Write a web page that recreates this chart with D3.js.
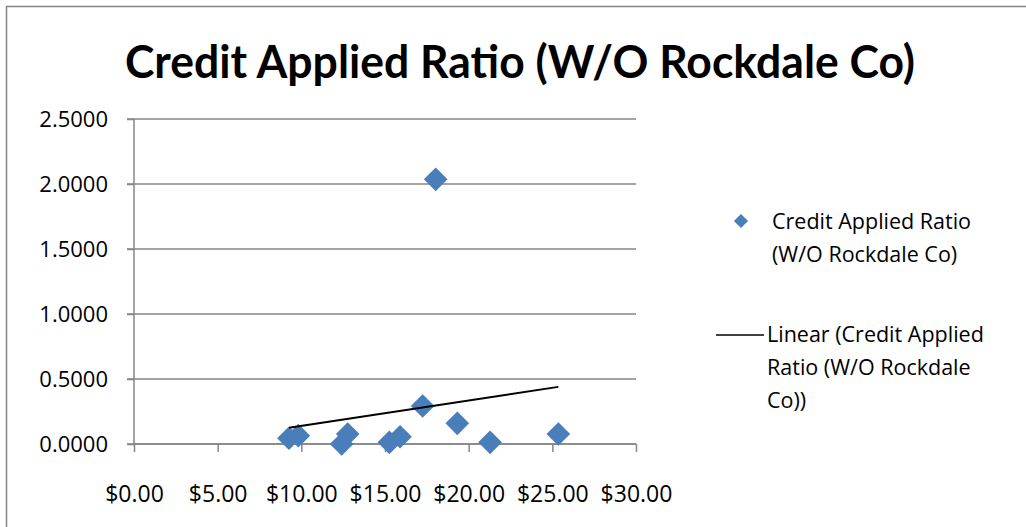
<!DOCTYPE html>
<html>
<head>
<meta charset="utf-8">
<script src="https://cdn.jsdelivr.net/npm/d3@7"></script>
<style>
  html, body { margin: 0; padding: 0; background: #fff; }
  svg { display: block; }
</style>
</head>
<body>
<div id="canvas"></div>
<script>
  // values
  var seriesName = 'Credit Applied Ratio (W/O Rockdale Co)';
  var priceValues = [9.26, 9.82, 12.41, 12.77, 15.26, 15.90, 17.25, 18.03, 19.32, 21.28, 25.36];
  var ratioValues = [0.044, 0.064, 0.000, 0.077, 0.013, 0.056, 0.292, 2.036, 0.159, 0.013, 0.077];
  var xTicks = [0, 5, 10, 15, 20, 25, 30];
  var yTicks = [0, 0.5, 1, 1.5, 2, 2.5];

  var width = 1026, height = 527;
  var fontFamily = '"Open Sans", "DejaVu Sans", sans-serif';
  var blue = '#4a7ebb';
  var grid = '#868686';

  var points = priceValues.map(function (p, i) { return { x: p, y: ratioValues[i] }; });

  var svg = d3.select('#canvas')
    .append('svg')
    .attr('width', width)
    .attr('height', height);

  // chart frame, right and bottom edges fall off the picture
  svg.append('rect')
    .attr('x', 6.5)
    .attr('y', 6.5)
    .attr('width', width + 10)
    .attr('height', height + 10)
    .attr('fill', '#fff')
    .attr('stroke', grid)
    .attr('stroke-width', 1.5);

  // title
  svg.append('text')
    .attr('x', 125)
    .attr('y', 78)
    .attr('textLength', 790)
    .attr('lengthAdjust', 'spacingAndGlyphs')
    .style('font-family', 'Lato, "Open Sans", sans-serif')
    .style('font-size', '45px')
    .style('font-weight', 'bold')
    .attr('fill', '#000')
    .text(seriesName);

  var x = d3.scaleLinear().domain([0, 30]).range([134, 636]);
  var y = d3.scaleLinear().domain([0, 2.5]).range([444, 119]);

  // horizontal gridlines
  svg.append('g')
    .selectAll('line')
    .data(yTicks)
    .enter()
    .append('line')
    .attr('x1', 127)
    .attr('x2', 636)
    .attr('y1', function (d) { return y(d); })
    .attr('y2', function (d) { return y(d); })
    .attr('stroke', grid)
    .attr('stroke-width', 1.5);

  // y axis
  var yAxis = svg.append('g')
    .attr('transform', 'translate(134,0)')
    .call(d3.axisLeft(y).tickValues(yTicks).tickSize(7).tickPadding(19)
      .tickFormat(d3.format('.4f')));

  // x axis
  var xAxis = svg.append('g')
    .attr('transform', 'translate(0,444)')
    .call(d3.axisBottom(x).tickValues(xTicks).tickSize(8).tickPadding(34)
      .tickFormat(function (d) { return '$' + d3.format('.2f')(d); }));

  [yAxis, xAxis].forEach(function (ax) {
    ax.select('.domain').attr('stroke', grid).attr('stroke-width', 1.5);
    ax.selectAll('.tick line').attr('stroke', grid).attr('stroke-width', 1.5);
    ax.selectAll('.tick text')
      .attr('fill', '#000')
      .style('font-family', fontFamily)
      .style('font-size', '22px');
  });
  xAxis.selectAll('.tick text').style('font-size', '23px');
  xAxis.select('.domain').attr('d', 'M134,0H636');
  yAxis.select('.domain').attr('d', 'M0,119V444');

  // linear trendline (least squares over the points)
  var mx = d3.mean(priceValues), my = d3.mean(ratioValues);
  var sxy = d3.sum(points, function (d) { return (d.x - mx) * (d.y - my); });
  var sxx = d3.sum(points, function (d) { return (d.x - mx) * (d.x - mx); });
  var slope = sxy / sxx, intercept = my - slope * mx;
  var xExt = d3.extent(priceValues);

  // markers: squares turned 45 degrees
  var diamond = d3.symbol().type(d3.symbolSquare).size(280);
  svg.append('g')
    .selectAll('path')
    .data(points)
    .enter()
    .append('path')
    .attr('d', diamond)
    .attr('transform', function (d) {
      return 'translate(' + x(d.x) + ',' + y(d.y) + ') rotate(45)';
    })
    .attr('fill', blue);

  svg.append('line')
    .attr('x1', x(xExt[0]))
    .attr('y1', y(intercept + slope * xExt[0]))
    .attr('x2', x(xExt[1]))
    .attr('y2', y(intercept + slope * xExt[1]))
    .attr('stroke', '#000')
    .attr('stroke-width', 2);

  // legend
  var legend = svg.append('g')
    .style('font-family', fontFamily)
    .style('font-size', '21.5px');

  legend.append('path')
    .attr('d', d3.symbol().type(d3.symbolSquare).size(100))
    .attr('transform', 'translate(741,221) rotate(45)')
    .attr('fill', blue);

  legend.append('text')
    .attr('x', 772)
    .attr('y', 229)
    .selectAll('tspan')
    .data(['Credit Applied Ratio', '(W/O Rockdale Co)'])
    .enter()
    .append('tspan')
    .attr('x', 772)
    .attr('dy', function (d, i) { return i ? 33 : 0; })
    .text(function (d) { return d; });

  legend.append('line')
    .attr('x1', 716)
    .attr('x2', 764)
    .attr('y1', 335)
    .attr('y2', 335)
    .attr('stroke', '#000')
    .attr('stroke-width', 1.5);

  legend.append('text')
    .attr('x', 767)
    .attr('y', 342)
    .selectAll('tspan')
    .data(['Linear (Credit Applied', 'Ratio (W/O Rockdale', 'Co))'])
    .enter()
    .append('tspan')
    .attr('x', 767)
    .attr('dy', function (d, i) { return i ? 33 : 0; })
    .text(function (d) { return d; });
</script>
</body>
</html>
